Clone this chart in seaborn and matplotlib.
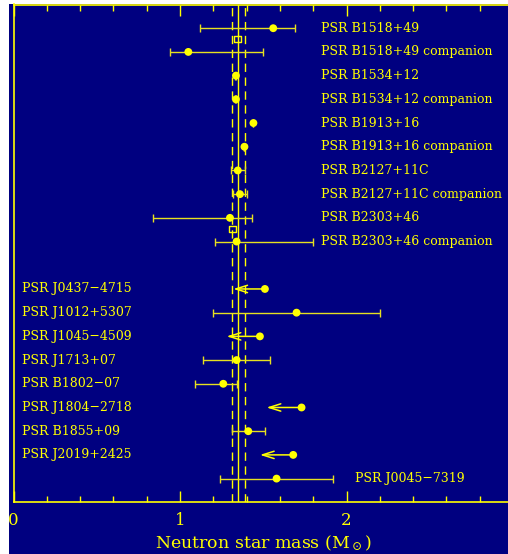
import numpy as np
import pandas as pd
import matplotlib
matplotlib.use("Agg")
import matplotlib.pyplot as plt
from matplotlib.patches import Rectangle
from matplotlib.ticker import MultipleLocator
import seaborn as sns

# ---------------- data ----------------
names = ["PSR B1518+49", "PSR B1518+49 companion", "PSR B1534+12",
         "PSR B1534+12 companion", "PSR B1913+16", "PSR B1913+16 companion",
         "PSR B2127+11C", "PSR B2127+11C companion", "PSR B2303+46",
         "PSR B2303+46 companion",
         "PSR J0437\u22124715", "PSR J1012+5307", "PSR J1045\u22124509",
         "PSR J1713+07", "PSR B1802\u221207", "PSR J1804\u22122718",
         "PSR B1855+09", "PSR J2019+2425", "PSR J0045\u22127319"]
rows = [0, 1, 2, 3, 4, 5, 6, 7, 8, 9, 11, 12, 13, 14, 15, 16, 17, 18, 19]
mass = [1.56, 1.05, 1.336, 1.336, 1.441, 1.387, 1.347, 1.36, 1.30, 1.34,
        1.51, 1.70, 1.48, 1.34, 1.26, 1.73, 1.41, 1.68, 1.58]
mass_lo = [1.12, 0.94, 1.333, 1.333, 1.441, 1.387, 1.308, 1.32, 0.84, 1.21,
           1.32, 1.20, 1.28, 1.14, 1.09, 1.52, 1.31, 1.48, 1.24]
mass_hi = [1.69, 1.50, 1.339, 1.339, 1.441, 1.387, 1.39, 1.40, 1.43, 1.80,
           np.nan, 2.20, np.nan, 1.54, 1.34, np.nan, 1.51, np.nan, 1.92]
upper_limit = [False] * 10 + [True, False, True, False, False, True, False, True, False]
label_x = [1.845] * 10 + [0.05] * 8 + [2.05]

# total-mass box markers
box_mass = [1.346, 1.316]
box_row = [0.45, 8.47]

# mean and spread
mean_mass = 1.35
spread = 0.04

NAVY = "#000080"
YEL = "#ffff00"
ERR = "#e6e020"

df = pd.DataFrame({"name": names, "row": rows, "mass": mass,
                   "lo": mass_lo, "hi": mass_hi, "ul": upper_limit,
                   "lx": label_x})

sns.set_theme(style="white", rc={"axes.facecolor": NAVY})
plt.rcParams["font.family"] = ["DejaVu Serif", "DejaVu Sans"]
plt.rcParams["mathtext.fontset"] = "dejavuserif"

W, H = 508, 554
fig = plt.figure(figsize=(W / 100, H / 100), dpi=100, facecolor="white")
fig.patches.append(Rectangle((9 / W, 0), 1, 550 / H, transform=fig.transFigure,
                             facecolor=NAVY, edgecolor="none", zorder=-5))
x0, ppu = 13.5, 166.5
ybot, ytop = 502.3, 4.5
ax = fig.add_axes([x0 / W, (H - ybot) / H, 3 * ppu / W, (ybot - ytop) / H])
ax.set_facecolor(NAVY)
ax.set_zorder(2)

# reference lines
ax.axvline(mean_mass, color=YEL, lw=1, zorder=1)
for v in (mean_mass - spread, mean_mass + spread):
    ax.axvline(v, color=YEL, lw=1, ls=(0, (6, 4)), zorder=1)

# error bars
eb = df[~df["ul"]]
ax.errorbar(eb["mass"], eb["row"],
            xerr=[eb["mass"] - eb["lo"], eb["hi"] - eb["mass"]],
            fmt="none", ecolor=ERR, elinewidth=1, capsize=3, capthick=1, zorder=2)

# upper-limit arrows
for _, r in df[df["ul"]].iterrows():
    ax.annotate("", xy=(r["lo"], r["row"]), xytext=(r["mass"], r["row"]),
                arrowprops=dict(arrowstyle="->,head_length=0.7,head_width=0.22",
                                color=YEL, lw=1.1, shrinkA=0, shrinkB=0), zorder=2)

sns.scatterplot(data=df, x="mass", y="row", ax=ax, color=YEL, s=32,
                edgecolor="none", zorder=3, legend=False)

ax.scatter(box_mass, box_row, marker="s", s=22, facecolor="none",
           edgecolor=YEL, lw=1, zorder=3)

for _, r in df.iterrows():
    ax.text(r["lx"], r["row"], r["name"], color=YEL, fontsize=9,
            va="center", ha="left")

ax.set_xlim(0, 3)
ax.set_ylim(20, -1)
ax.set_yticks([])
ax.set_ylabel("")
ax.xaxis.set_major_locator(MultipleLocator(1))
ax.xaxis.set_minor_locator(MultipleLocator(0.2))
ax.tick_params(axis="x", which="both", direction="in", top=True, bottom=True,
               colors=YEL, labelcolor=YEL, labelsize=12, pad=7)
ax.tick_params(axis="x", which="major", length=8, width=1)
ax.tick_params(axis="x", which="minor", length=4, width=1)
for s in ("left", "bottom", "top"):
    ax.spines[s].set_color(YEL)
    ax.spines[s].set_linewidth(1.2)
ax.spines["right"].set_visible(False)
ax.set_xlabel(r"Neutron star mass (M$_\odot$)", color=YEL, fontsize=12.5,
              labelpad=3)

fig.savefig("out.png", dpi=100, facecolor="white")
